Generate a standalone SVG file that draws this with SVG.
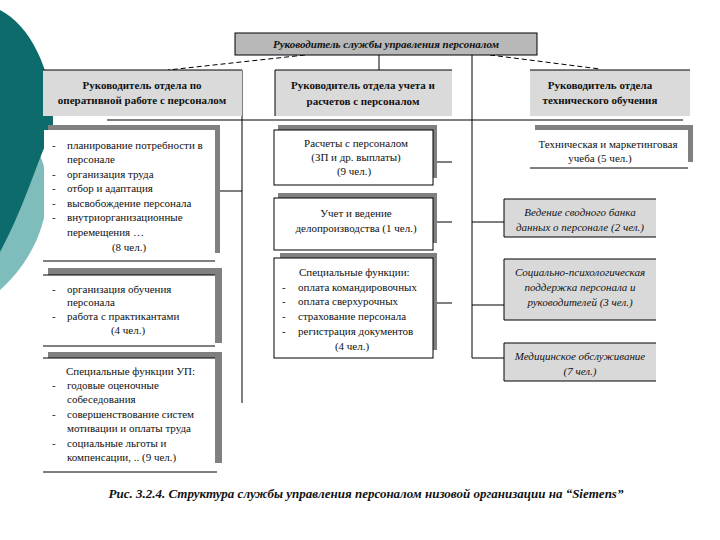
<svg xmlns="http://www.w3.org/2000/svg" width="720" height="540" viewBox="0 0 720 540">
<style>
.t{font-family:"Liberation Serif","Times New Roman",serif;font-size:11px;fill:#111}
.b{font-weight:bold}
.i{font-style:italic}
.c{text-anchor:middle}
.ln{stroke:#000;stroke-width:1;fill:none}
.sh{fill:#808080}
.wb{fill:#fff}
.wbs{fill:#fff;stroke:#000;stroke-width:1}
.hd{fill:#dadada}
.gb{fill:#d9d9d9}
</style>
<rect width="720" height="540" fill="#fff"/>
<g id="background">
<path d="M0,128 C35,132 47,160 47,192 C47,232 25,268 0,290 Z" fill="#7fbdbd"/>
<path d="M0,10 C30,25 52,70 53,118 L53,130 C40,150 28,200 0,252 Z" fill="#0d6b6b"/>
</g>
<g id="connectors">
<path class="ln" d="M305,55 L168,70 M490,55 L600,69" stroke-dasharray="5,3"/>
<path class="ln" d="M379,55 V70 M472,55 V358 M242,70 V403 M107,120 H683 M215,191 H242 M433,162 H452 M433,222 H452 M433,303 H452 M472,222 H504 M472,305 H504 M472,358 H504"/>
</g>
<g id="top">
<rect x="235" y="33" width="302" height="22" fill="#b8b8b8" stroke="#000"/>
<text class="t b i c" x="386" y="48">Руководитель службы управления персоналом</text>
</g>
<g id="dept-left">
<rect class="hd" x="43" y="70" width="199" height="46"/>
<path class="ln" d="M43,70 H242"/>
<text class="t b c" x="142" y="89">Руководитель отдела по</text>
<text class="t b c" x="142" y="104">оперативной работе с персоналом</text>
</g>
<g id="dept-mid">
<rect class="hd" x="275" y="70" width="177" height="46"/>
<path class="ln" d="M275,116 V70 H452"/>
<text class="t b c" x="363" y="89">Руководитель отдела учета и</text>
<text class="t b c" x="363" y="105">расчетов с персоналом</text>
</g>
<g id="dept-right">
<rect class="hd" x="530" y="70" width="160" height="46"/>
<path class="ln" d="M530,70 H690"/>
<text class="t b c" x="600" y="89">Руководитель отдела</text>
<text class="t b c" x="600" y="104">технического обучения</text>
</g>
<g id="left-1">
<rect class="sh" x="48" y="125" width="172" height="128"/>
<rect class="wb" x="44" y="130" width="171" height="131"/>
<path class="ln" d="M43,261 H215"/>
<text class="t" x="52" y="149">-</text><text class="t" x="67" y="149">планирование потребности в</text>
<text class="t" x="67" y="163">персонале</text>
<text class="t" x="52" y="178">-</text><text class="t" x="67" y="178">организация труда</text>
<text class="t" x="52" y="192">-</text><text class="t" x="67" y="192">отбор и адаптация</text>
<text class="t" x="52" y="207">-</text><text class="t" x="67" y="207">высвобождение персонала</text>
<text class="t" x="52" y="221">-</text><text class="t" x="67" y="221">внутриорганизационные</text>
<text class="t" x="67" y="236">перемещения …</text>
<text class="t c" x="129" y="251">(8 чел.)</text>
</g>
<g id="left-2">
<rect class="sh" x="48" y="268" width="174" height="75"/>
<rect class="wb" x="44" y="275" width="171" height="71"/>
<path class="ln" d="M43,275 H215 M43,346 H215"/>
<text class="t" x="52" y="293">-</text><text class="t" x="67" y="293">организация обучения</text>
<text class="t" x="67" y="306">персонала</text>
<text class="t" x="52" y="320">-</text><text class="t" x="67" y="320">работа с практикантами</text>
<text class="t c" x="128" y="334">(4 чел.)</text>
</g>
<g id="left-3">
<rect class="sh" x="48" y="352" width="174" height="111"/>
<rect class="wb" x="44" y="358" width="171" height="114"/>
<path class="ln" d="M43,358 H215 M43,472 H217"/>
<text class="t" x="66" y="375">Специальные функции УП:</text>
<text class="t" x="52" y="389">-</text><text class="t" x="67" y="389">годовые оценочные</text>
<text class="t" x="67" y="403">собеседования</text>
<text class="t" x="52" y="418">-</text><text class="t" x="67" y="418">совершенствование систем</text>
<text class="t" x="67" y="432">мотивации и оплаты труда</text>
<text class="t" x="52" y="447">-</text><text class="t" x="67" y="447">социальные льготы и</text>
<text class="t" x="67" y="461">компенсации, .. (9 чел.)</text>
</g>
<g id="mid-1">
<rect class="sh" x="278" y="125" width="159" height="53"/>
<rect class="wbs" x="274" y="130" width="159" height="55"/>
<text class="t c" x="356" y="147">Расчеты с персоналом</text>
<text class="t c" x="356" y="161">(ЗП и др. выплаты)</text>
<text class="t c" x="354" y="175">(9 чел.)</text>
</g>
<g id="mid-2">
<rect class="sh" x="278" y="193" width="159" height="50"/>
<rect class="wbs" x="274" y="198" width="159" height="52"/>
<text class="t c" x="356" y="217">Учет и ведение</text>
<text class="t c" x="356" y="232">делопроизводства (1 чел.)</text>
</g>
<g id="mid-3">
<rect class="sh" x="280" y="253" width="157" height="97"/>
<rect class="wbs" x="274" y="258" width="159" height="100"/>
<text class="t" x="299" y="276">Специальные функции:</text>
<text class="t" x="282" y="291">-</text><text class="t" x="298" y="291">оплата командировочных</text>
<text class="t" x="282" y="305">-</text><text class="t" x="298" y="305">оплата сверхурочных</text>
<text class="t" x="282" y="320">-</text><text class="t" x="298" y="320">страхование персонала</text>
<text class="t" x="282" y="335">-</text><text class="t" x="298" y="335">регистрация документов</text>
<text class="t c" x="352" y="350">(4 чел.)</text>
</g>
<g id="right-1">
<rect class="sh" x="535" y="125" width="158" height="37"/>
<rect class="wb" x="530" y="130" width="158" height="38"/>
<path class="ln" d="M530,168 H688"/>
<text class="t c" x="608" y="148">Техническая и маркетинговая</text>
<text class="t c" x="600" y="162">учеба (5 чел.)</text>
</g>
<g id="right-2">
<rect class="gb" x="504" y="199" width="152" height="38"/>
<path class="ln" d="M656,199 H504 V237 H656"/>
<text class="t i c" x="580" y="216">Ведение сводного банка</text>
<text class="t i c" x="580" y="231">данных о персонале (2 чел.)</text>
</g>
<g id="right-3">
<rect class="gb" x="504" y="259" width="152" height="61"/>
<path class="ln" d="M656,259 H504 V320 H656"/>
<text class="t i c" x="580" y="276">Социально-психологическая</text>
<text class="t i c" x="580" y="291">поддержка персонала и</text>
<text class="t i c" x="580" y="306">руководителей (3 чел.)</text>
</g>
<g id="right-4">
<rect class="gb" x="504" y="343" width="152" height="38"/>
<path class="ln" d="M656,343 H504 V381 H656"/>
<text class="t i c" x="580" y="360">Медицинское обслуживание</text>
<text class="t i c" x="580" y="375">(7 чел.)</text>
</g>
<g id="caption">
<text class="t b i c" x="366" y="498" style="font-size:13px">Рис. 3.2.4. Структура службы управления персоналом низовой организации на “Siemens”</text>
</g>
</svg>
